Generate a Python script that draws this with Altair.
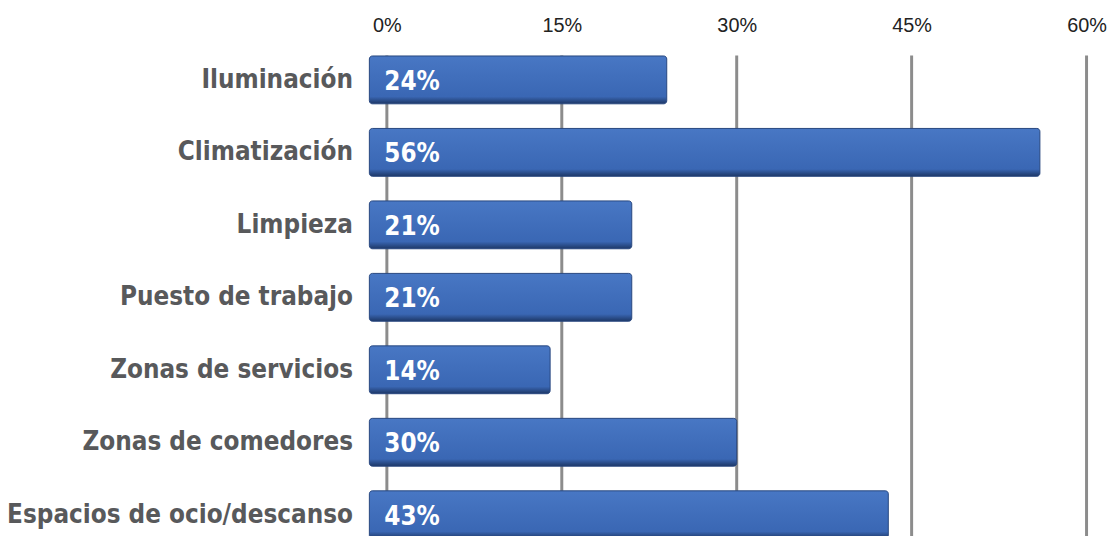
import altair as alt
import pandas as pd

categories = ["Iluminación", "Climatización", "Limpieza", "Puesto de trabajo",
              "Zonas de servicios", "Zonas de comedores", "Espacios de ocio/descanso"]
values = [24, 56, 21, 21, 14, 30, 43]
ticks = [0, 15, 30, 45, 60]

df = pd.DataFrame({"cat": categories, "val": values,
                   "label": [f"{v}%" for v in values]})
grid_df = pd.DataFrame({"t": ticks})

xscale = alt.Scale(domain=[-1.5, 61.5], nice=False, zero=False)
yscale = alt.Scale(domain=categories, range=[0, 511], paddingInner=0.34, paddingOuter=0.17)
cond = "DejaVu Sans Condensed"

xaxis = alt.Axis(orient="top", values=ticks, labelExpr="datum.value + '%'",
                 domain=False, ticks=False, grid=False, labelFont="Liberation Sans",
                 labelFontSize=20, labelColor="#222222", labelPadding=8, title=None)
yaxis = alt.Axis(domain=False, ticks=False, grid=False, title=None, labelPadding=17,
                 labelFont=cond, labelFontWeight="bold", labelFontSize=26,
                 labelColor="#58595b", labelLimit=400)

grid = alt.Chart(grid_df).mark_rule(color="#8c8c8c", strokeWidth=3).encode(
    x=alt.X("t:Q", scale=xscale, axis=xaxis, title=None),
    y=alt.value(12), y2=alt.value(700)
)

bars = alt.Chart(df).transform_calculate(start="-1.5").mark_bar(
    color=alt.LinearGradient(gradient="linear", x1=0, x2=0, y1=0, y2=1,
                             stops=[alt.GradientStop(color="#4877c4", offset=0),
                                    alt.GradientStop(color="#3a67b4", offset=0.85),
                                    alt.GradientStop(color="#1d3766", offset=1)]),
    stroke="#27477f", strokeWidth=1, cornerRadius=3
).encode(
    y=alt.Y("cat:N", scale=yscale, sort=categories, axis=yaxis, title=None),
    x=alt.X("start:Q", scale=xscale, axis=xaxis, title=None),
    x2="val:Q"
)

text = alt.Chart(df).transform_calculate(start="-1.5").mark_text(
    align="left", baseline="middle", dx=15, dy=2, color="white",
    font=cond, fontWeight="bold", fontSize=26
).encode(
    y=alt.Y("cat:N", scale=yscale, sort=categories, axis=yaxis, title=None),
    x=alt.X("start:Q", scale=xscale, axis=xaxis, title=None),
    text="label:N"
)

chart = alt.layer(grid, bars, text).properties(
    width=740, height=494,
    background="white",
    autosize=alt.AutoSizeParams(type="none"),
    padding={"left": 364, "top": 34, "right": 5, "bottom": 0}
).configure_view(stroke=None, strokeWidth=0).configure_axis(grid=False, domain=False)

chart.save("out.html", embed_options={"renderer": "svg", "actions": False})
